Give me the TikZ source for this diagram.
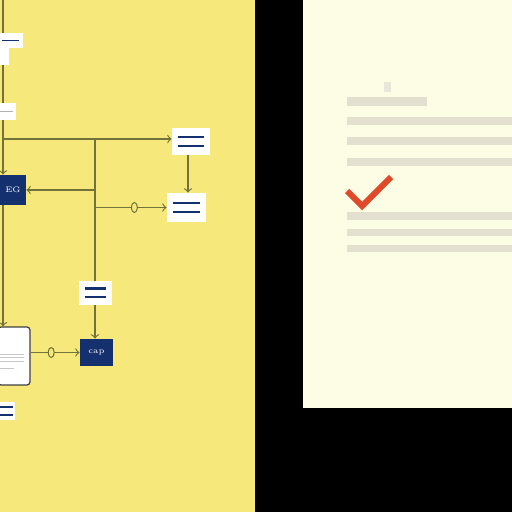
\documentclass[tikz,border=0pt]{standalone}
\usepackage{tikz}
\usetikzlibrary{shapes,shapes.geometric,positioning}

\definecolor{pad}{HTML}{F7E87C}
\definecolor{page}{HTML}{FDFCE4}
\definecolor{wire}{HTML}{72733A}
\definecolor{ink}{HTML}{14306E}
\definecolor{bar}{HTML}{E3E0D0}
\definecolor{tick}{HTML}{E04A2A}

\tikzset{
  card/.style={fill=white,inner sep=0pt},
  twolines/.style={path picture={
      \draw[ink,line width=1.1pt] ([xshift=3pt,yshift=2.2pt]path picture bounding box.west) -- ([xshift=-3pt,yshift=2.2pt]path picture bounding box.east);
      \draw[ink,line width=1.1pt] ([xshift=3pt,yshift=-2.2pt]path picture bounding box.west) -- ([xshift=-3pt,yshift=-2.2pt]path picture bounding box.east);}},
  navy/.style={fill=ink,inner sep=0pt,text=white,font=\fontsize{4}{4}\selectfont},
  wired/.style={wire,line width=0.6pt},
  ring/.style={ellipse,draw=wire,line width=0.5pt,fill=pad,minimum width=3pt,minimum height=5pt,inner sep=0pt}
}

\begin{document}
\begin{tikzpicture}[x=0.5pt,y=-0.5pt]
    % background
    \useasboundingbox (0,0) rectangle (512,512);
    \fill[black] (0,0) rectangle (512,512);
    \fill[pad] (0,0) rectangle (255,512);

    % page
    \fill[page] (303,0) rectangle (512,408);
    \fill[bar!80] (384,82) rectangle (391,92);
    \fill[bar] (347,97) rectangle (427,106);
    \fill[bar] (347,117) rectangle (512,125);
    \fill[bar] (347,137) rectangle (512,145);
    \fill[bar] (347,158) rectangle (512,166);
    \fill[bar] (347,212) rectangle (512,220);
    \fill[bar] (347,229) rectangle (512,236);
    \fill[bar] (347,245) rectangle (512,252);
    \draw[tick,line width=3pt] (347,191) -- (362,206) -- (391,177);

    % wires
    \coordinate (top) at (3,0);
    \coordinate (mid) at (95,139);
    \coordinate (drop) at (188,0);

    % cards
    \node[card,minimum width=11.5pt,minimum height=7.5pt,path picture={\draw[ink,line width=0.8pt] ([xshift=1pt]path picture bounding box.west) -- ([xshift=-2pt]path picture bounding box.east);}] (tag) at (11.5,40.5) {};
    \node[card,minimum width=4.5pt,minimum height=8.5pt] (stub) at (4.5,56.5) {};
    \node[card,minimum width=8pt,minimum height=8.5pt,path picture={\draw[gray!60,line width=0.6pt] (path picture bounding box.west) -- ([xshift=-1.5pt]path picture bounding box.east);}] (note) at (8,111.5) {};
    \node[navy,minimum width=13pt,minimum height=15pt] (eg) at (13,190) {EG};
    \node[card,twolines,minimum width=19pt,minimum height=13.5pt] (b1) at (191,141.5) {};
    \node[card,twolines,minimum width=19.5pt,minimum height=14.5pt] (b2) at (186.5,207.5) {};
    \node[card,twolines,minimum width=16.5pt,minimum height=12pt] (b3) at (95.5,293) {};
    \node[navy,minimum width=16.5pt,minimum height=13.5pt] (cap) at (96.5,352.5) {cap};
    \node[card,draw=black!75,line width=0.6pt,rounded corners=1.5pt,minimum width=16pt,minimum height=29pt,
      path picture={\foreach \i in {-2.5,-0.8,0.9} {\draw[gray!45,line width=0.4pt] ([xshift=1pt,yshift=\i pt]path picture bounding box.west) -- ([xshift=-3pt,yshift=\i pt]path picture bounding box.east);}
        \draw[gray!45,line width=0.4pt] ([xshift=1pt,yshift=-6pt]path picture bounding box.west) -- ([xshift=-8pt,yshift=-6pt]path picture bounding box.east);}] (doc) at (14,356) {};
    \node[card,minimum width=7.5pt,minimum height=9pt,
      path picture={\foreach \i in {1.8,-1.8} {\draw[ink,line width=1pt] ([yshift=\i pt]path picture bounding box.west) -- ([xshift=-0.8pt,yshift=\i pt]path picture bounding box.east);}}] (tag2) at (7.5,411) {};

    % links
    \draw[wired] (top) -- (tag.north -| top);
    \draw[wired] (stub.south -| top) -- (note.north -| top);
    \draw[wired,->] (note.south -| top) -- (eg.north -| top);
    \draw[wired,->] (eg.south -| top) -- (doc.north -| top);
    \draw[wired,->] (mid -| top) -- (b1.west |- mid);
    \draw[wired] (mid) -- (b3.north -| mid);
    \draw[wired,->] (b3.south -| mid) -- (cap.north -| mid);
    \draw[wired,->] (mid |- eg) -- (eg.east);
    \draw[wired,->] (mid |- b2) -- node[ring,pos=0.55] (o1) {} (b2.west);
    \draw[wired,->] (b1.south -| drop) -- (b2.north -| drop);
    \draw[wired,->] (doc.east |- cap.west) -- node[ring,pos=0.42] (o2) {} (cap.west);
  \end{tikzpicture}
\end{document}
